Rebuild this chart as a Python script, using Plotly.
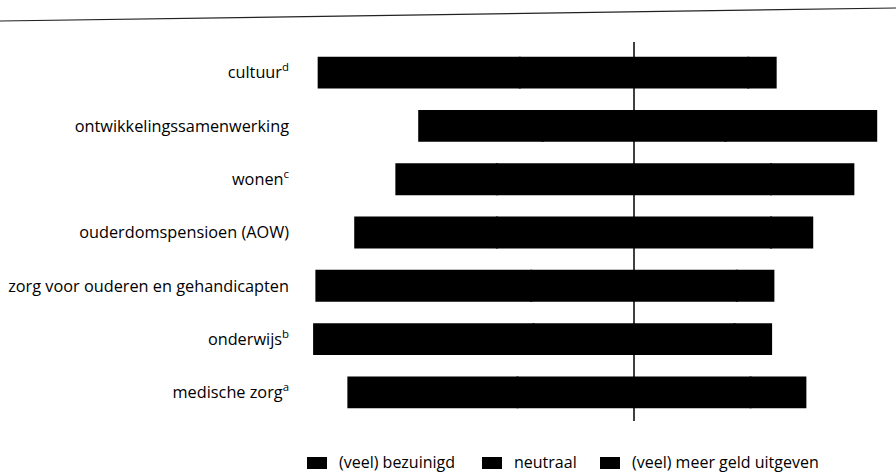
import plotly.graph_objects as go

# Spending preferences per policy area (percent of respondents)
categories = [
    "medische zorg<sup>a</sup>",
    "onderwijs<sup>b</sup>",
    "zorg voor ouderen en gehandicapten",
    "ouderdomspensioen (AOW)",
    "wonen<sup>c</sup>",
    "ontwikkelingssamenwerking",
    "cultuur<sup>d</sup>",
]
bezuinigd = [37, 48, 47, 31, 22, 27, 44]
neutraal = [51, 44, 45, 60, 60, 40, 50]
meer_geld = [12, 8, 8, 9, 18, 33, 6]

series_names = ["(veel) bezuinigd", "neutraal", "(veel) meer geld uitgeven"]
series_colors = ["#000000", "#000000", "#000000"]

# Neutral share is centred on zero; cuts extend left, more spending right.
base_bez = [-(b + n / 2) for b, n in zip(bezuinigd, neutraal)]
base_neu = [-n / 2 for n in neutraal]
base_meer = [n / 2 for n in neutraal]

FONT = "Open Sans, Noto Sans, sans-serif"
FS_TICK = 16.3
FS_LEG = 16
WIDTH, HEIGHT = 896, 473
L, R, T, B = 300, 0, 46, 54
W = WIDTH - L - R
H = HEIGHT - T - B


def paper_x(px):
    return (px - L) / W


def paper_y(py):
    return (HEIGHT - B - py) / H


fig = go.Figure()
for name, vals, base, col in zip(series_names,
                                 [bezuinigd, neutraal, meer_geld],
                                 [base_bez, base_neu, base_meer],
                                 series_colors):
    fig.add_trace(go.Bar(
        y=categories, x=vals, base=base, orientation="h", name=name,
        marker=dict(color=col, line=dict(width=2, color=col)),
        hoverinfo="skip", showlegend=False,
    ))

px_per_pct = 4.57
center_px = 634
x_lo = -(center_px - L) / px_per_pct
x_hi = (WIDTH - R - center_px) / px_per_pct

fig.update_layout(
    width=WIDTH, height=HEIGHT,
    margin=dict(l=L, r=R, t=T, b=B),
    paper_bgcolor="white", plot_bgcolor="white",
    barmode="overlay", bargap=0.44,
    font=dict(family=FONT, size=FS_TICK, color="#000000"),
    showlegend=False,
)
fig.update_xaxes(range=[x_lo, x_hi], visible=False, fixedrange=True)
fig.update_yaxes(
    showgrid=False, zeroline=False, showline=False, ticks="",
    ticklabelstandoff=10, tickfont=dict(family=FONT, size=FS_TICK),
    fixedrange=True,
)

# Zero reference line
fig.add_shape(type="line", xref="x", yref="paper", x0=0, x1=0,
              y0=paper_y(421), y1=paper_y(42),
              line=dict(color="#000000", width=1.5), layer="above")
# Top rule
fig.add_shape(type="line", xref="paper", yref="paper",
              x0=paper_x(0), x1=paper_x(WIDTH), y0=paper_y(21), y1=paper_y(8),
              line=dict(color="#222222", width=1.2))

# Legend row: swatch + label for each series
legend_swatch_x = [307, 482, 600]
for name, col, sx in zip(series_names, series_colors, legend_swatch_x):
    fig.add_shape(type="rect", xref="paper", yref="paper",
                  x0=paper_x(sx), x1=paper_x(sx + 20),
                  y0=paper_y(469), y1=paper_y(457),
                  fillcolor=col, line=dict(width=0))
    fig.add_annotation(xref="paper", yref="paper",
                       x=paper_x(sx + 30), y=paper_y(462),
                       xanchor="left", yanchor="middle", showarrow=False,
                       text=name, font=dict(family=FONT, size=FS_LEG,
                                            color="#000000"))

fig.write_html("out.html")
